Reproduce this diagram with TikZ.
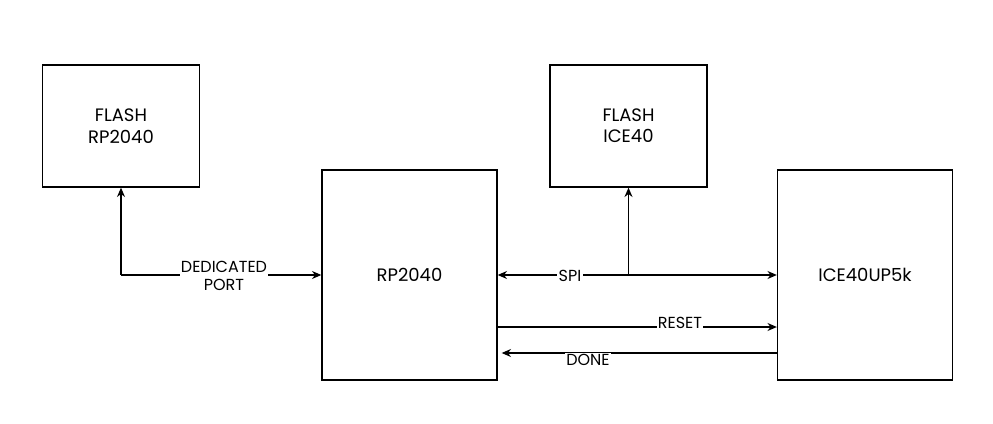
\documentclass[tikz,border=0pt]{standalone}
\usepackage{fontspec}
\setmainfont{Poppins}
\usetikzlibrary{arrows.meta}
\begin{document}
\begin{tikzpicture}[x=0.75pt,y=-0.75pt,
  box/.style={draw,line width=1pt,minimum width=0.75pt*157,minimum height=0.75pt*122,align=center,font=\fontsize{13.5}{16}\selectfont,inner sep=0},
  big/.style={box,minimum width=0.75pt*175,minimum height=0.75pt*210},
  con/.style={line width=1pt,-{Stealth[length=7pt,width=6pt]}},
  lab/.style={fill=white,inner sep=1pt,font=\fontsize{12}{13}\selectfont,align=center}]
\useasboundingbox (0,0) rectangle (993,424);
\node[box] (f1) at (121,126) {FLASH\\RP2040};
\node[big] (rp) at (409.5,275) {RP2040};
\node[box] (f2) at (628.5,126) {FLASH\\ICE40};
\node[big] (ice) at (865,275) {ICE40UP5k};
\coordinate (c1) at (121,275);
\coordinate (c2) at (628.5,275);
\draw[con] (c1) -- (f1.south);
\draw[con] (c1) -- (rp.west);
\node[lab] at (224,276) {DEDICATED\\PORT};
\draw[con,{Stealth[length=7pt,width=6pt]}-{Stealth[length=7pt,width=6pt]}] (rp.east) -- (ice.west);
\draw[con] (c2) -- (f2.south);
\node[lab] at (570,276) {SPI};
\draw[con] (rp.east |- 0,327) -- (ice.west |- 0,327);
\node[lab] at (680,323) {RESET};
\draw[con] (ice.west |- 0,353) -- ([xshift=3pt]rp.east |- 0,353);
\node[lab] at (588,360) {DONE};
\end{tikzpicture}
\end{document}
